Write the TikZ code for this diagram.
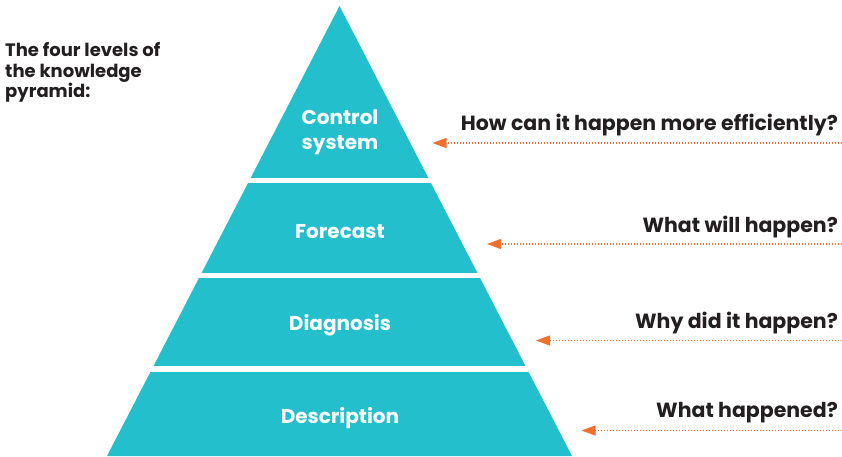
\documentclass[tikz,border=0pt]{standalone}
\usepackage{fontspec}
\setmainfont{Poppins}
\usetikzlibrary{arrows.meta, % For the triangle tips
               }
\definecolor{pyrteal}{HTML}{23BFCD}
\definecolor{qorange}{HTML}{F36F2D}
\definecolor{qdark}{HTML}{231F20}
\tikzstyle{band} = [fill=pyrteal]
\tikzstyle{level} = [text=white, font=\fontsize{20}{25.5}\selectfont\bfseries, align=center]
\tikzstyle{question} = [text=qdark, font=\fontsize{20.5}{24}\selectfont\bfseries, anchor=east, inner sep=0pt]
\tikzstyle{pointer} = [-{Triangle[length=14pt,width=10pt]}, qorange, line width=1.3pt,
                       dash pattern=on 1.3pt off 1.7pt]

\begin{document}
\begin{tikzpicture}[x=1pt, y=-1pt]
  \useasboundingbox (0,0) rectangle (842,456);

  \node (title) [text=qdark, font=\fontsize{18}{20.8}\selectfont\bfseries, align=left,
                 anchor=north west, inner sep=0pt] at (5,42)
        {The four levels of\\the knowledge\\pyramid:};

  % the pyramid, cut into four bands
  \begin{scope}
    \clip (107,456) -- (339.5,6) -- (572,456) -- cycle;
    \foreach \top/\bot in {6/178, 183/272.5, 277.5/366, 371.5/460}
      \fill[band] (0,\top) rectangle (842,\bot);
  \end{scope}

  \node (control) [level] at (340,132) {Control\\system};
  \node (forecast) [level] at (340,232) {Forecast};
  \node (diagnosis) [level] at (340,325) {Diagnosis};
  \node (description) [level] at (340,418) {Description};

  \node (q_control) [question] at (838,125) {How can it happen more efficiently?};
  \node (q_forecast) [question] at (838,227) {What will happen?};
  \node (q_diagnosis) [question] at (838,323) {Why did it happen?};
  \node (q_description) [question] at (838,413) {What happened?};

  \coordinate (s1) at (842,143);   \coordinate (t1) at (432.5,143);
  \coordinate (s2) at (842,244);   \coordinate (t2) at (487,244);
  \coordinate (s3) at (842,340.5); \coordinate (t3) at (536,340.5);
  \coordinate (s4) at (842,430.5); \coordinate (t4) at (581.5,430.5);

  \foreach \i in {1,...,4}
    \draw[pointer] (s\i) -- (t\i);

\end{tikzpicture}
\end{document}
